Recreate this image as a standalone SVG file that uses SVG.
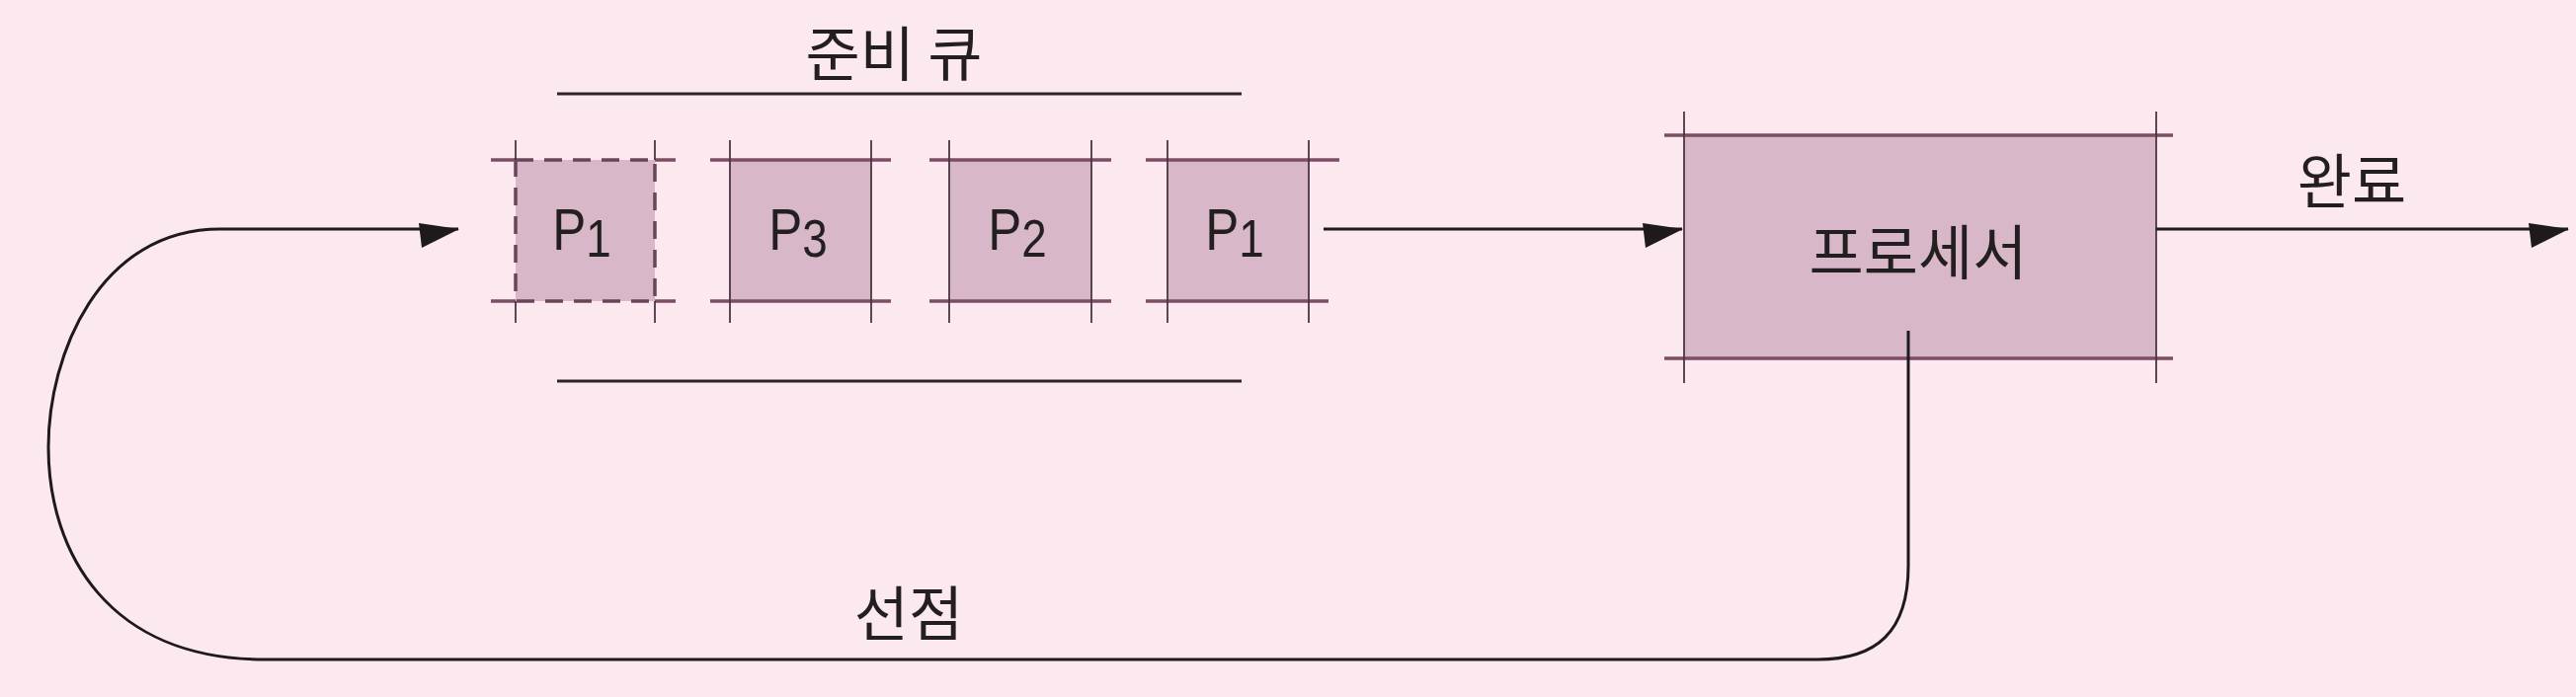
<svg xmlns="http://www.w3.org/2000/svg" width="2608" height="706" viewBox="0 0 2608 706">
<style>
.bg{fill:#fce9ef}
.fill{fill:#d8b7c8}
.hedge{stroke:#7d4d65;stroke-width:3.5;fill:none}
.vedge{stroke:#4a3540;stroke-width:1.8;fill:none}
.dash{stroke:#6a4458;stroke-width:3.5;fill:none;stroke-dasharray:18 11}
.rule{stroke:#2e2428;stroke-width:3;fill:none}
.conn{stroke:#1e1a1c;stroke-width:3;fill:none}
.ko{font-family:"Noto Sans CJK KR","Noto Sans",sans-serif;font-size:60px;fill:#231f20;text-anchor:middle}
.pl{font-family:"Liberation Sans",Arial,sans-serif;font-size:60px;fill:#231f20;text-anchor:middle}
.sub{font-size:54px}
</style>
<defs>
<marker id="ah" markerUnits="userSpaceOnUse" viewBox="-46 -8 50 32" refX="0" refY="0" markerWidth="50" markerHeight="32" orient="auto" overflow="visible">
<path d="M1,0 L-40,-6 L-37,19 Z" fill="#1e1a1c"/>
</marker>
</defs>
<rect class="bg" x="0" y="0" width="2608" height="706"/>

<g id="queue-label">
<text class="ko" x="905" y="77">준비 큐</text>
<line class="rule" x1="564" y1="95" x2="1257" y2="95"/>
<line class="rule" x1="564" y1="386" x2="1257" y2="386"/>
</g>

<g id="p1-dashed">
<rect class="fill" x="522" y="162" width="141" height="143"/>
<rect class="dash" x="522" y="162" width="141" height="143"/>
<line class="hedge" x1="497" y1="162" x2="522" y2="162"/>
<line class="hedge" x1="663" y1="162" x2="684" y2="162"/>
<line class="hedge" x1="497" y1="305" x2="522" y2="305"/>
<line class="hedge" x1="663" y1="305" x2="684" y2="305"/>
<line class="vedge" x1="522" y1="142" x2="522" y2="162"/>
<line class="vedge" x1="663" y1="142" x2="663" y2="162"/>
<line class="vedge" x1="522" y1="305" x2="522" y2="327"/>
<line class="vedge" x1="663" y1="305" x2="663" y2="327"/>
<text class="pl" transform="translate(589,253) scale(0.85,1)">P<tspan class="sub" dy="7">1</tspan></text>
</g>

<g id="p3">
<rect class="fill" x="739" y="162" width="143" height="143"/>
<line class="hedge" x1="719" y1="162" x2="902" y2="162"/>
<line class="hedge" x1="719" y1="305" x2="902" y2="305"/>
<line class="vedge" x1="739" y1="142" x2="739" y2="327"/>
<line class="vedge" x1="882" y1="142" x2="882" y2="327"/>
<text class="pl" transform="translate(808,253) scale(0.85,1)">P<tspan class="sub" dy="7">3</tspan></text>
</g>

<g id="p2">
<rect class="fill" x="961" y="162" width="144" height="143"/>
<line class="hedge" x1="941" y1="162" x2="1125" y2="162"/>
<line class="hedge" x1="941" y1="305" x2="1125" y2="305"/>
<line class="vedge" x1="961" y1="142" x2="961" y2="327"/>
<line class="vedge" x1="1105" y1="142" x2="1105" y2="327"/>
<text class="pl" transform="translate(1030,253) scale(0.85,1)">P<tspan class="sub" dy="7">2</tspan></text>
</g>

<g id="p1">
<rect class="fill" x="1182" y="162" width="143" height="143"/>
<line class="hedge" x1="1160" y1="162" x2="1356" y2="162"/>
<line class="hedge" x1="1160" y1="305" x2="1345" y2="305"/>
<line class="vedge" x1="1182" y1="142" x2="1182" y2="327"/>
<line class="vedge" x1="1325" y1="142" x2="1325" y2="327"/>
<text class="pl" transform="translate(1250,253) scale(0.85,1)">P<tspan class="sub" dy="7">1</tspan></text>
</g>

<g id="processor">
<rect class="fill" x="1705" y="137" width="478" height="226"/>
<line class="hedge" x1="1685" y1="137" x2="2200" y2="137"/>
<line class="hedge" x1="1685" y1="363" x2="2200" y2="363"/>
<line class="vedge" x1="1705" y1="113" x2="1705" y2="388"/>
<line class="vedge" x1="2183" y1="113" x2="2183" y2="388"/>
<text class="ko" x="1942" y="278">프로세서</text>
</g>

<g id="connectors">
<line class="conn" x1="1340" y1="232" x2="1703" y2="232" marker-end="url(#ah)"/>
<line class="conn" x1="2183" y1="232" x2="2600" y2="232" marker-end="url(#ah)"/>
<path class="conn" d="M1932,335 L1932,573 C1932,640 1900,668 1840,668 L268,668 C110,668 49,560 49,453 C49,360 100,232 223,232 L464,232" marker-end="url(#ah)"/>
</g>

<g id="labels">
<text class="ko" x="2381" y="206">완료</text>
<text class="ko" x="920" y="644">선점</text>
</g>
</svg>
